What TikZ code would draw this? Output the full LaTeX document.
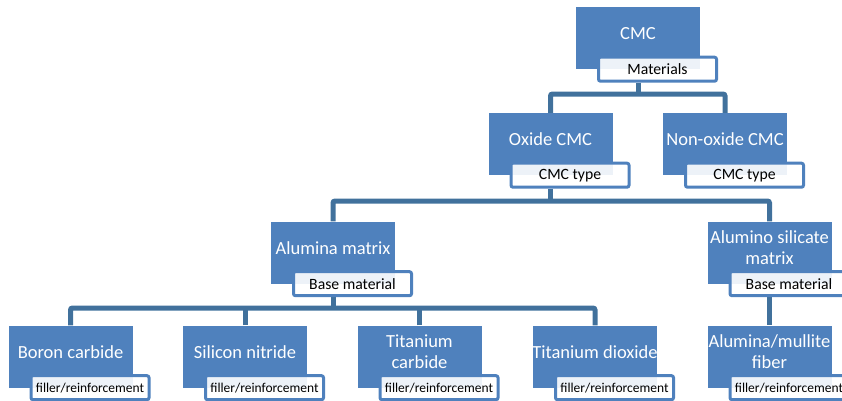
\documentclass[tikz,border=0pt]{standalone}
\usepackage{fontspec}
\setmainfont{Carlito}
\usetikzlibrary{backgrounds}
\definecolor{boxblue}{HTML}{4F81BD}
\definecolor{linkblue}{HTML}{41719C}
\begin{document}
\begin{tikzpicture}[x=1pt,y=-1pt,
 box/.style={fill=boxblue, minimum width=124pt, minimum height=62pt, inner sep=0pt},
 boxtext/.style={text=white, font=\fontsize{18.5}{21}\selectfont, align=center, inner sep=0pt},
 tag/.style={draw=boxblue, line width=3pt, fill=white, fill opacity=0.9, text opacity=1, rounded corners=2pt, minimum width=118pt, minimum height=24pt, inner sep=0pt, font=\fontsize{15.7}{18}\selectfont},
 smalltag/.style={tag, font=\fontsize{13.5}{16}\selectfont},
 conn/.style={draw=linkblue, line width=5pt, rounded corners=2pt}]
\useasboundingbox (0,0) rectangle (842,400);
% level 0
\node[box] (cmc) at (638,38) {};
\node[boxtext] (cmct) at ([yshift=4.5pt]cmc.center) {CMC};
\node[tag] (cmcl) at ([xshift=19.5pt]cmc.south) {Materials};
% level 1
\node[box] (oxide) at (550.5,144) {};
\node[boxtext] (oxidet) at ([yshift=4.5pt]oxide.center) {Oxide CMC};
\node[tag] (oxidel) at ([xshift=19.5pt]oxide.south) {CMC type};
\node[box] (nonox) at (725,144) {};
\node[boxtext] (nonoxt) at ([yshift=4.5pt]nonox.center) {Non-oxide CMC};
\node[tag] (nonoxl) at ([xshift=19.5pt]nonox.south) {CMC type};
% level 2
\node[box] (alum) at (333,252.5) {};
\node[boxtext] (alumt) at ([yshift=4.5pt]alum.center) {Alumina matrix};
\node[tag] (aluml) at ([xshift=19.5pt]alum.south) {Base material};
\node[box] (alsil) at (769.5,252.5) {};
\node[boxtext] (alsilt) at ([yshift=4.5pt]alsil.center) {Alumino silicate\\matrix};
\node[tag] (alsill) at ([xshift=19.5pt]alsil.south) {Base material};
% level 3
\node[box] (b1) at (70.5,356.5) {};
\node[boxtext] (b1t) at ([yshift=4.5pt]b1.center) {Boron carbide};
\node[smalltag] (b1l) at ([xshift=19.5pt]b1.south) {filler/reinforcement};
\node[box] (b2) at (245,356.5) {};
\node[boxtext] (b2t) at ([yshift=4.5pt]b2.center) {Silicon nitride};
\node[smalltag] (b2l) at ([xshift=19.5pt]b2.south) {filler/reinforcement};
\node[box] (b3) at (419.5,356.5) {};
\node[boxtext] (b3t) at ([yshift=4.5pt]b3.center) {Titanium\\carbide};
\node[smalltag] (b3l) at ([xshift=19.5pt]b3.south) {filler/reinforcement};
\node[box] (b4) at (595,356.5) {};
\node[boxtext] (b4t) at ([yshift=4.5pt]b4.center) {Titanium dioxide};
\node[smalltag] (b4l) at ([xshift=19.5pt]b4.south) {filler/reinforcement};
\node[box] (b5) at (769.5,356.5) {};
\node[boxtext] (b5t) at ([yshift=4.5pt]b5.center) {Alumina/mullite\\fiber};
\node[smalltag] (b5l) at ([xshift=19.5pt]b5.south) {filler/reinforcement};
% connectors
\coordinate (j1) at (638,94);
\coordinate (j2) at (550.5,201);
\coordinate (j3) at (333,308);
\begin{scope}[on background layer]
\draw[conn] (oxide.north) |- (j1) -| (nonox.north);
\draw[conn] (cmc |- cmcl.south) -- (j1);
\draw[conn] (alum.north) |- (j2) -| (alsil.north);
\draw[conn] (oxide |- oxidel.south) -- (j2);
\draw[conn] (b1.north) |- (j3) -| (b4.north);
\draw[conn] (b2.north) -- (b2 |- j3);
\draw[conn] (b3.north) -- (b3 |- j3);
\draw[conn] (alum |- aluml.south) -- (j3);
\draw[conn] (alsil |- alsill.south) -- (b5.north);
\end{scope}
\end{tikzpicture}
\end{document}
